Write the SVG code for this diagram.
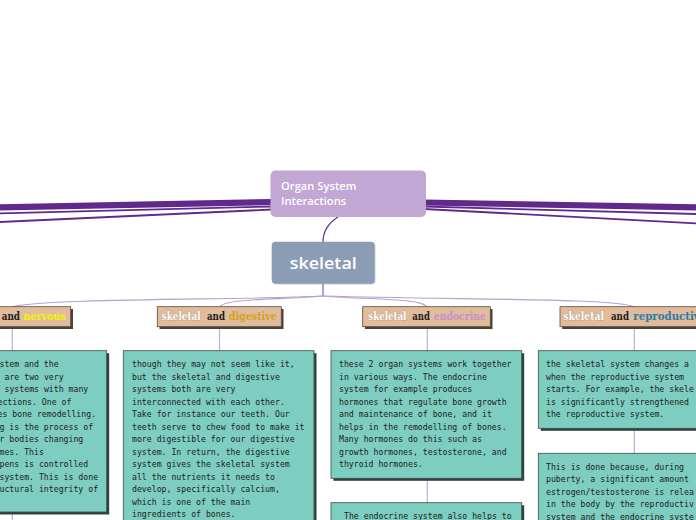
<svg xmlns="http://www.w3.org/2000/svg" width="696" height="520" viewBox="0 0 696 520">
<style>
.thick{fill:none;stroke:#62298c;stroke-linecap:butt}
.br{fill:none;stroke:#b99dd0;stroke-width:1.1}
.vl{fill:none;stroke:#c6aadb;stroke-width:1.2}
.lbl{fill:#e0bc9c;stroke:#5a4a40;stroke-width:0.8}
.lsh{fill:#4a4038}
.box{fill:#7ecdc1;stroke:#3c4a48;stroke-width:0.8}
.bsh{fill:#2f4442}
.t{font-family:"DejaVu Sans Mono","Liberation Mono",monospace;font-size:8.2px;fill:#1c1c1c}
.lw{font-family:"DejaVu Serif","Liberation Serif",serif;font-weight:bold;font-size:11px}
.sk{fill:#ffffff;stroke:#9c7c62;stroke-width:0.5;paint-order:stroke}
.and{fill:#1a1a1a}
</style>
<rect width="696" height="520" fill="#ffffff"/>
<g id="connectors">
  <path class="thick" d="M272,202 L0,207.3" stroke-width="6.2"/>
  <path class="thick" d="M272,206.5 L0,213.3" stroke-width="1.8"/>
  <path class="thick" d="M272,209.5 L0,222" stroke-width="1.8"/>
  <path class="thick" d="M424,202.5 L696,207.3" stroke-width="6.2"/>
  <path class="thick" d="M424,206.5 L696,214" stroke-width="1.8"/>
  <path class="thick" d="M424,209 L696,223.3" stroke-width="1.8"/>
  <path d="M338,217 C327,224 323,232 323,242" fill="none" stroke="#62298c" stroke-width="1.2"/>
  <path d="M323,284 L323,296" fill="none" stroke="#7d45a8" stroke-width="1.1"/>
  <path class="br" d="M323,296 C250,300 40,298 12,307"/>
  <path class="br" d="M323,296 C280,300 224,298 220,307"/>
  <path class="br" d="M323,296 C370,300 422,298 427,307"/>
  <path class="br" d="M323,296 C460,300 620,298 634,307"/>
  <path class="vl" d="M12.3,327 L12.3,351"/>
  <path class="vl" d="M12.3,512 L12.3,520"/>
  <path class="vl" d="M219.5,327 L219.5,351"/>
  <path class="vl" d="M427.3,327 L427.3,351"/>
  <path class="vl" d="M427.3,478 L427.3,503"/>
  <path class="vl" d="M634.3,327 L634.3,351"/>
  <path class="vl" d="M634.3,428 L634.3,453"/>
</g>
<g id="organ">
  <rect x="270.5" y="170.5" width="155.5" height="46.5" rx="5" fill="#c2a6d3"/>
  <text x="281" y="189.5" font-family="'Open Sans','Noto Sans',sans-serif" font-weight="600" font-size="11.2" fill="#ffffff">Organ System</text>
  <text x="281" y="205.3" font-family="'Open Sans','Noto Sans',sans-serif" font-weight="600" font-size="11.2" fill="#ffffff">Interactions</text>
</g>
<g id="skeletal">
  <rect x="272.5" y="242.5" width="103" height="42" rx="4" fill="#6f7f93" opacity="0.35"/>
  <rect x="271.7" y="241.7" width="103" height="42" rx="4" fill="#8a9db5"/>
  <text x="323.3" y="269.3" text-anchor="middle" font-family="'Open Sans','Noto Sans',sans-serif" font-weight="600" font-size="17" fill="#ffffff" textLength="67" lengthAdjust="spacingAndGlyphs">skeletal</text>
</g>
<g id="label-nervous">
  <rect class="lsh" x="-44" y="309" width="117" height="20"/>
  <rect class="lbl" x="-46.3" y="306.7" width="117" height="20"/>
  <text class="lw" y="320"><tspan class="and" x="1.7" textLength="18.3" lengthAdjust="spacingAndGlyphs">and</tspan><tspan x="23.3" fill="#f4f20a" textLength="42.4" lengthAdjust="spacingAndGlyphs">nervous</tspan></text>
</g>
<g id="label-digestive">
  <rect class="lsh" x="159.5" y="309" width="124" height="20"/>
  <rect class="lbl" x="157.3" y="306.7" width="124" height="20"/>
  <text class="lw" y="320"><tspan class="sk" x="161.7" textLength="39" lengthAdjust="spacingAndGlyphs">skeletal</tspan><tspan class="and" x="207" textLength="18" lengthAdjust="spacingAndGlyphs">and</tspan><tspan x="228.8" fill="#d1a224" textLength="48" lengthAdjust="spacingAndGlyphs">digestive</tspan></text>
</g>
<g id="label-endocrine">
  <rect class="lsh" x="364.9" y="309" width="127.6" height="20"/>
  <rect class="lbl" x="362.7" y="306.7" width="127.6" height="20"/>
  <text class="lw" y="320"><tspan class="sk" x="368.3" textLength="38" lengthAdjust="spacingAndGlyphs">skeletal</tspan><tspan class="and" x="412.3" textLength="17.5" lengthAdjust="spacingAndGlyphs">and</tspan><tspan x="433.8" fill="#c58fc6" textLength="52" lengthAdjust="spacingAndGlyphs">endocrine</tspan></text>
</g>
<g id="label-reproductive">
  <rect class="lsh" x="562.2" y="309" width="150" height="20"/>
  <rect class="lbl" x="560" y="306.7" width="150" height="20"/>
  <text class="lw" y="320"><tspan class="sk" x="563.3" textLength="40.7" lengthAdjust="spacingAndGlyphs">skeletal</tspan><tspan class="and" x="611" textLength="18" lengthAdjust="spacingAndGlyphs">and</tspan><tspan x="633.3" fill="#2c7aa6" textLength="73" lengthAdjust="spacingAndGlyphs">reproductive</tspan></text>
</g>
<g id="text-nervous">
  <rect class="bsh" x="-97.5" y="353.2" width="206.7" height="161.3"/>
  <rect class="box" x="-100" y="350.7" width="206.7" height="161.3"/>
  <text class="t" x="-0.5" y="367">stem and the</text>
  <text class="t" x="4.5" y="379.5">are two very</text>
  <text class="t" x="4.5" y="392">systems with many</text>
  <text class="t" x="-2.5" y="404.5">ections. One of</text>
  <text class="t" x="-2.5" y="417">es bone remodelling.</text>
  <text class="t" x="-0.5" y="429.5">g is the process of</text>
  <text class="t" x="-0.5" y="442">r bodies changing</text>
  <text class="t" x="-0.5" y="454.5">mes. This</text>
  <text class="t" x="-0.5" y="467">pens is controlled</text>
  <text class="t" x="-0.5" y="479.5">system. This is done</text>
  <text class="t" x="-0.5" y="492">uctural integrity of</text>
</g>
<g id="text-digestive">
  <rect class="bsh" x="125.8" y="353.2" width="190.7" height="200"/>
  <rect class="box" x="123.3" y="350.7" width="190.7" height="200"/>
  <text class="t" x="132" y="367">though they may not seem like it,</text>
  <text class="t" x="132" y="379.5">but the skeletal and digestive</text>
  <text class="t" x="132" y="392">systems both are very</text>
  <text class="t" x="132" y="404.5">interconnected with each other.</text>
  <text class="t" x="132" y="417">Take for instance our teeth. Our</text>
  <text class="t" x="132" y="429.5">teeth serve to chew food to make it</text>
  <text class="t" x="132" y="442">more digestible for our digestive</text>
  <text class="t" x="132" y="454.5">system. In return, the digestive</text>
  <text class="t" x="132" y="467">system gives the skeletal system</text>
  <text class="t" x="132" y="479.5">all the nutrients it needs to</text>
  <text class="t" x="132" y="492">develop, specifically calcium,</text>
  <text class="t" x="132" y="504.5">which is one of the main</text>
  <text class="t" x="132" y="517">ingredients of bones.</text>
</g>
<g id="text-endocrine-1">
  <rect class="bsh" x="333.5" y="353.2" width="190.7" height="127.6"/>
  <rect class="box" x="331" y="350.7" width="190.7" height="127.6"/>
  <text class="t" x="339" y="367">these 2 organ systems work together</text>
  <text class="t" x="339" y="379.5">in various ways. The endocrine</text>
  <text class="t" x="339" y="392">system for example produces</text>
  <text class="t" x="339" y="404.5">hormones that regulate bone growth</text>
  <text class="t" x="339" y="417">and maintenance of bone, and it</text>
  <text class="t" x="339" y="429.5">helps in the remodelling of bones.</text>
  <text class="t" x="339" y="442">Many hormones do this such as</text>
  <text class="t" x="339" y="454.5">growth hormones, testosterone, and</text>
  <text class="t" x="339" y="467">thyroid hormones.</text>
</g>
<g id="text-endocrine-2">
  <rect class="bsh" x="333.5" y="505.2" width="190.7" height="100"/>
  <rect class="box" x="331" y="502.7" width="190.7" height="100"/>
  <text class="t" x="344" y="519">The endocrine system also helps to</text>
</g>
<g id="text-reproductive-1">
  <rect class="bsh" x="540.8" y="353.2" width="200" height="77.6"/>
  <rect class="box" x="538.3" y="350.7" width="200" height="77.6"/>
  <text class="t" x="546" y="367">the skeletal system changes a</text>
  <text class="t" x="546" y="379.5">when the reproductive system</text>
  <text class="t" x="546" y="392">starts. For example, the skele</text>
  <text class="t" x="546" y="404.5">is significantly strengthened</text>
  <text class="t" x="546" y="417">the reproductive system.</text>
</g>
<g id="text-reproductive-2">
  <rect class="bsh" x="540.8" y="455.8" width="200" height="100"/>
  <rect class="box" x="538.3" y="453.3" width="200" height="100"/>
  <text class="t" x="546" y="469.5">This is done because, during</text>
  <text class="t" x="546" y="482">puberty, a significant amount</text>
  <text class="t" x="546" y="494.5">estrogen/testosterone is relea</text>
  <text class="t" x="546" y="507">in the body by the reproductiv</text>
  <text class="t" x="546" y="519.5">system and the endocrine syste</text>
</g>
</svg>
